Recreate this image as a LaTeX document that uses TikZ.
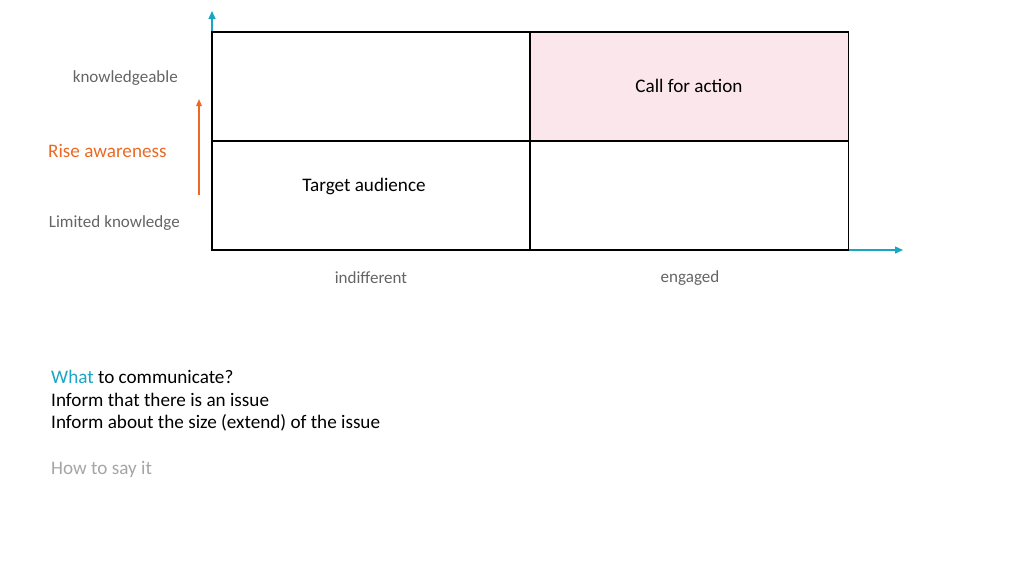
\documentclass[tikz,border=0pt]{standalone}
\usepackage{fontspec}
\setmainfont{Carlito}
\usepackage{tikz}
\usetikzlibrary{arrows.meta, positioning, calc}
\definecolor{axiscyan}{RGB}{25,165,195}
\definecolor{riseorange}{RGB}{235,105,35}
\definecolor{cellpink}{RGB}{250,230,235}
\definecolor{labelgrey}{RGB}{100,100,100}
\definecolor{hintgrey}{RGB}{165,165,165}

\begin{document}
\begin{tikzpicture}[x=0.02cm,y=-0.02cm]
      \tikzset{
            cell/.style={draw=black, line width=0.7pt, minimum width=6.36cm, minimum height=2.18cm, inner sep=0pt},
            axisarr/.style={-{Triangle[length=1.6mm,width=1.4mm]}, axiscyan, line width=0.8pt},
            risearr/.style={-{Triangle[length=1.4mm,width=1.1mm]}, riseorange, line width=0.8pt},
            axlabel/.style={font=\fontsize{9.7}{11}\selectfont, text=labelgrey},
            celltext/.style={font=\fontsize{10.9}{12}\selectfont, text=black},
            notetext/.style={anchor=west, font=\fontsize{10.9}{13}\selectfont, text=black}
      }
      \useasboundingbox (0,0) rectangle (1024,576);

      % Grid positions
      \def\xL{212}
      \def\xM{530}
      \def\xR{849}
      \def\yT{32}
      \def\yM{141}
      \def\yB{250}

      % Axes
      \coordinate (origin) at (\xL,\yB);
      \coordinate (ytip) at (\xL,11);
      \coordinate (xtip) at (903,\yB);
      \draw[axisarr] (origin) -- (ytip);
      \draw[axisarr] (origin) -- (xtip);

      % Cells
      \node[cell] (tl) at ($(\xL,\yT)!0.5!(\xM,\yM)$) {};
      \node[cell, fill=cellpink] (tr) at ($(\xM,\yT)!0.5!(\xR,\yM)$) {};
      \node[cell] (bl) at ($(\xL,\yM)!0.5!(\xM,\yB)$) {};
      \node[cell] (br) at ($(\xM,\yM)!0.5!(\xR,\yB)$) {};

      \node[celltext] (call) at (689,86) {Call for action};
      \node[celltext] (target) at (364,186) {Target audience};

      % Axis labels
      \node[axlabel, anchor=east] (know) at (184,78.5) {knowledgeable};
      \node[axlabel, anchor=east] (limited) at (186,223) {Limited knowledge};
      \node[axlabel] (indiff) at (371,278) {indifferent};
      \node[axlabel] (engaged) at (690,278) {engaged};

      % Awareness arrow
      \node[anchor=west, font=\fontsize{10.9}{12}\selectfont, text=riseorange] (rise) at (42,150.5) {Rise awareness};
      \coordinate (risefrom) at (199,195);
      \coordinate (riseto) at (199,99);
      \draw[risearr] (risefrom) -- (riseto);

      % Notes
      \node[notetext] (what) at (45,377) {\textcolor{axiscyan}{What} to communicate?};
      \node[notetext] (inform1) at (45,399.5) {Inform that there is an issue};
      \node[notetext] (inform2) at (45,422.5) {Inform about the size (extend) of the issue};
      \node[notetext, text=hintgrey] (how) at (45,469) {How to say it};
\end{tikzpicture}
\end{document}
